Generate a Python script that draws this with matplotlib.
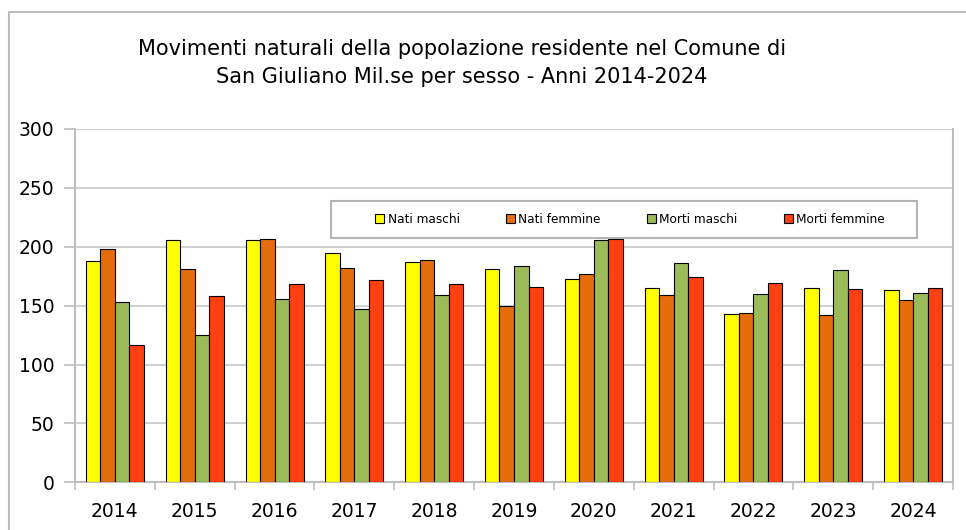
import matplotlib
matplotlib.use("Agg")
import matplotlib.pyplot as plt
import numpy as np
from matplotlib.patches import Rectangle, Patch

years = ["2014", "2015", "2016", "2017", "2018", "2019", "2020", "2021", "2022", "2023", "2024"]
nati_maschi = [188, 206, 206, 195, 187, 181, 173, 165, 143, 165, 163]
nati_femmine = [198, 181, 207, 182, 189, 150, 177, 159, 144, 142, 155]
morti_maschi = [153, 125, 156, 147, 159, 184, 206, 186, 160, 180, 161]
morti_femmine = [117, 158, 168, 172, 168, 166, 207, 174, 169, 164, 165]
series_names = ["Nati maschi", "Nati femmine", "Morti maschi", "Morti femmine"]
series_values = [nati_maschi, nati_femmine, morti_maschi, morti_femmine]
colors = ["#FFFF00", "#E46C0A", "#9BBB59", "#FF4010"]
title = "Movimenti naturali della popolazione residente nel Comune di\nSan Giuliano Mil.se per sesso - Anni 2014-2024"

FONT = "DejaVu Sans"
plt.rcParams["font.family"] = [FONT]

W, H = 966, 530
fig = plt.figure(figsize=(W / 100, H / 100), dpi=100)

def fx(px):
    return px / W

def fy(py):
    return 1 - py / H

# outer chart border (clipped on right/bottom)
fig.patches.append(Rectangle((fx(8.5), fy(600)), fx(1000), fy(11.5) - fy(600),
                             transform=fig.transFigure, fill=False,
                             edgecolor="#bdbdbd", linewidth=1.5))

left, right, top, bottom = 75, 953, 129, 482.3
ax = fig.add_axes([fx(left), fy(bottom), fx(right - left), fy(top) - fy(bottom)])

x = np.arange(len(years))
group = 0.727
bw = group / 4
for i, (name, vals, c) in enumerate(zip(series_names, series_values, colors)):
    ax.bar(x + (i - 1.5) * bw, vals, width=bw, color=c, edgecolor="black",
           linewidth=0.8, label=name, zorder=3)

ax.set_xlim(-0.5, len(years) - 0.5)
ax.set_ylim(0, 300)
ax.set_yticks(np.arange(0, 301, 50))
ax.set_xticks(x)
ax.set_xticklabels(years)
ax.set_xticks(np.arange(-0.5, len(years), 1), minor=True)
ax.tick_params(axis="x", which="major", length=0, pad=14, labelsize=13.5)
ax.tick_params(axis="x", which="minor", length=6, color="#bdbdbd", width=1.2)
ax.tick_params(axis="y", length=8, color="#bdbdbd", width=1.2, pad=7, labelsize=13.5)
ax.yaxis.grid(True, color="#c8c8c8", linewidth=1.2, zorder=0)
ax.set_axisbelow(True)
for s in ["left", "bottom", "right"]:
    ax.spines[s].set_color("#bdbdbd")
    ax.spines[s].set_linewidth(1.5)
ax.spines["top"].set_visible(False)

fig.text(fx(462), fy(63), title, ha="center", va="center", fontsize=15,
         linespacing=1.55)

# legend frame
fig.patches.append(Rectangle((fx(331), fy(238)), fx(917 - 331), fy(201) - fy(238),
                             transform=fig.transFigure, facecolor="white",
                             edgecolor="#b4b4b4", linewidth=1.5, zorder=5))
handles = [Patch(facecolor=c, edgecolor="black", linewidth=0.8) for c in colors]
leg = fig.legend(handles, series_names, loc="center", bbox_to_anchor=(fx(630), fy(219.5)),
                 ncol=4, frameon=False, fontsize=8.7, handlelength=0.75, handleheight=0.75,
                 handletextpad=0.25, columnspacing=3.85, borderaxespad=0)
leg.set_zorder(6)

fig.savefig("out.png", dpi=100)
